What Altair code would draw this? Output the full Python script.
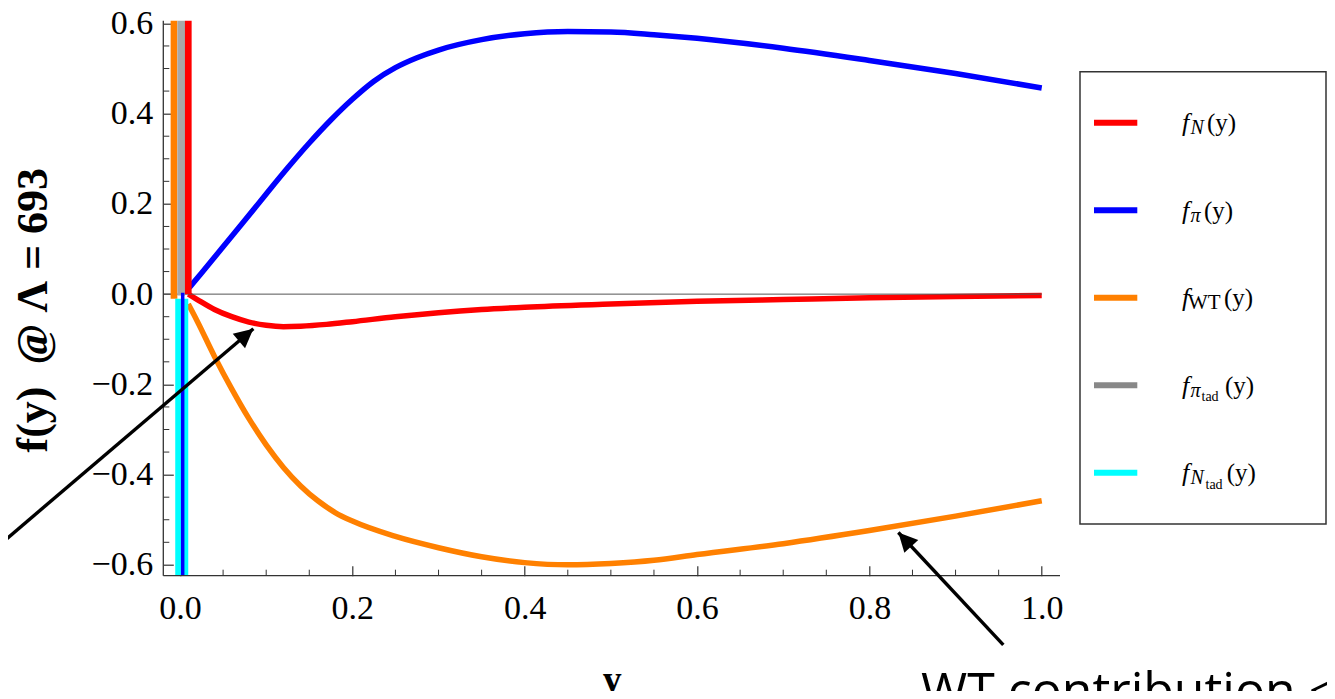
import math
import altair as alt
import pandas as pd

# ---------------- values ----------------
SERIES = ["fN", "fpi", "fWT", "fpitad", "fNtad"]
LINE_COLORS = ["#ff0000", "#0000ff", "#ff8000", "#a8a8a8", "#00ffff"]
SWATCH_COLORS = ["#ff0000", "#0000ff", "#ff8000", "#888888", "#00ffff"]

X_N = [0.0096, 0.02, 0.04, 0.06, 0.08, 0.10, 0.12, 0.14, 0.17, 0.20, 0.25,
       0.30, 0.35, 0.40, 0.50, 0.60, 0.70, 0.80, 0.90, 1.00]
F_N = [0.0, -0.012, -0.034, -0.050, -0.062, -0.069, -0.072, -0.071, -0.067,
       -0.061, -0.050, -0.041, -0.034, -0.029, -0.022, -0.016, -0.012,
       -0.008, -0.005, -0.003]

X_PI = [0.011, 0.025, 0.05, 0.075, 0.10, 0.125, 0.15, 0.175, 0.20, 0.225,
        0.25, 0.275, 0.30, 0.35, 0.40, 0.45, 0.50, 0.55, 0.60, 0.70, 0.80,
        0.90, 1.00]
F_PI = [0.015, 0.047, 0.105, 0.163, 0.222, 0.28, 0.335, 0.386, 0.432, 0.472,
        0.502, 0.524, 0.541, 0.564, 0.577, 0.582, 0.581, 0.575, 0.567, 0.545,
        0.518, 0.489, 0.457]

X_WT = [0.0096, 0.02, 0.04, 0.06, 0.08, 0.10, 0.12, 0.14, 0.16, 0.18, 0.20,
        0.25, 0.30, 0.35, 0.40, 0.45, 0.50, 0.55, 0.60, 0.70, 0.80, 0.90, 1.00]
F_WT = [-0.022, -0.06, -0.138, -0.21, -0.276, -0.334, -0.384, -0.425,
        -0.458, -0.484, -0.503, -0.537, -0.562, -0.582, -0.595, -0.600,
        -0.597, -0.590, -0.577, -0.553, -0.524, -0.492, -0.458]

# vertical spikes near y = 0 (they run off the plotted range)
SPIKE_SERIES = ["fWT", "fpitad", "fN", "fNtad", "fpi"]
SPIKE_X = [-0.007, 0.0014, 0.0096, 0.002, 0.0031]
SPIKE_FROM = [-0.01, -0.003, 0.0, -0.01, 0.003]
SPIKE_TO = [0.9, 0.9, 0.9, -0.9, -0.9]

X_MAJOR = [0.0, 0.2, 0.4, 0.6, 0.8, 1.0]
Y_MAJOR = [-0.6, -0.4, -0.2, 0.0, 0.2, 0.4, 0.6]
X_MINOR = [0.05, 0.10, 0.15, 0.25, 0.30, 0.35, 0.45, 0.50, 0.55, 0.65, 0.70,
           0.75, 0.85, 0.90, 0.95]
Y_MINOR = [-0.55, -0.50, -0.45, -0.35, -0.30, -0.25, -0.15, -0.10, -0.05,
           0.05, 0.10, 0.15, 0.25, 0.30, 0.35, 0.45, 0.50, 0.55]

LEG_SUB = ["N", "π", "WT", "π", "N"]
LEG_SUBSUB = ["", "", "", "tad", "tad"]

# annotation arrows (data coordinates): tail -> tip
ARROW_TAIL_X = [-0.232, 0.9554]
ARROW_TAIL_Y = [-0.5923, -0.7775]
ARROW_TIP_X = [0.0851, 0.8336]
ARROW_TIP_Y = [-0.0768, -0.5282]

NB = "\u00a0"
X_TITLE = "y"
Y_TITLE = "f(y)" + NB * 2 + "@" + NB + "Λ" + NB + "=" + NB + "693"
NOTE_TEXT = "WT contribution <"

# ---------------- layout ----------------
OX, OY = 163.3, 20.7          # page position of the plot origin
W, H = 896.7, 555.0
SVG_W, SVG_H = 1319, 683
XDOM = [-0.0194, 1.0212]
YDOM = [-0.624, 0.606]
SERIF = "Liberation Serif"
AXC = "#333333"

xs = alt.Scale(domain=XDOM, nice=False, zero=False)
ys = alt.Scale(domain=YDOM, nice=False, zero=False)
cs = alt.Scale(domain=SERIES, range=LINE_COLORS)

xaxis = alt.Axis(values=X_MAJOR, format=".1f", title=X_TITLE,
                 titleFont=SERIF, titleFontSize=38, titleFontWeight="bold",
                 titleColor="black", titleAlign="center",
                 titleBaseline="alphabetic", titleX=W / 2, titleY=126,
                 labelFont=SERIF, labelFontSize=34, labelColor="black",
                 labelPadding=16, labelFlush=False, labelOverlap=False,
                 tickSize=10, tickColor=AXC, tickWidth=1.2, offset=-10,
                 domain=False, grid=False)
yaxis = alt.Axis(values=Y_MAJOR, format=".1f", title=Y_TITLE,
                 titleFont=SERIF, titleFontSize=44, titleFontWeight="bold",
                 titleColor="black", titleAngle=270, titleAlign="center",
                 titleBaseline="alphabetic", titleX=-127, titleY=289,
                 labelFont=SERIF, labelFontSize=34, labelColor="black",
                 labelPadding=10.6, labelFlush=False, labelOverlap=False,
                 tickSize=10, tickColor=AXC, tickWidth=1.2, offset=-10,
                 domain=False, grid=False)


def X(field):
    return alt.X(field, scale=xs, axis=xaxis)


def Y(field):
    return alt.Y(field, scale=ys, axis=yaxis)


one = pd.DataFrame({"k": [0]})


def curve(name, xv, fv):
    df = pd.DataFrame({"x": xv, "v": fv, "name": name})
    return alt.Chart(df).mark_line(
        clip=True, strokeWidth=5.5, interpolate="monotone").encode(
        x=X("x:Q"), y=Y("v:Q"),
        color=alt.Color("name:N", scale=cs, legend=None),
    )


spikes = pd.DataFrame({"name": SPIKE_SERIES, "x": SPIKE_X,
                       "y": SPIKE_FROM, "y2": SPIKE_TO})
SPIKE_WIDTH = {"fWT": 6.7, "fpitad": 7.7, "fN": 6.7, "fNtad": 13, "fpi": 3.5}


def spike(name):
    return alt.Chart(spikes).transform_filter(
        alt.datum.name == name
    ).mark_rule(clip=True, strokeWidth=SPIKE_WIDTH[name]).encode(
        x=X("x:Q"), y=Y("y:Q"), y2="y2:Q",
        color=alt.Color("name:N", scale=cs, legend=None),
    )


zero_line = alt.Chart(pd.DataFrame({"x": [XDOM[0]], "x2": [1.0], "y": [0.0]})
                      ).mark_rule(color="#555555", strokeWidth=1).encode(
    x=X("x:Q"), x2="x2:Q", y=Y("y:Q"))

frame_left = alt.Chart(one).mark_rule(color=AXC, strokeWidth=1.3).encode(
    x=alt.value(0), y=alt.value(0), y2=alt.value(H))
frame_bottom = alt.Chart(one).mark_rule(color=AXC, strokeWidth=1.3).encode(
    x=alt.value(0), x2=alt.value(W), y=alt.value(H))

xminor = alt.Chart(pd.DataFrame({"t": X_MINOR})).mark_rule(
    color=AXC, strokeWidth=1).encode(
    x=X("t:Q"), y=alt.value(H), y2=alt.value(H - 6))
yminor = alt.Chart(pd.DataFrame({"t": Y_MINOR})).mark_rule(
    color=AXC, strokeWidth=1).encode(
    y=Y("t:Q"), x=alt.value(0), x2=alt.value(6))

# arrows
arrows = pd.DataFrame({"x": ARROW_TAIL_X, "y": ARROW_TAIL_Y,
                       "x2": ARROW_TIP_X, "y2": ARROW_TIP_Y})
arrow_lines = alt.Chart(arrows).mark_rule(color="black", strokeWidth=3.4).encode(
    x=X("x:Q"), y=Y("y:Q"), x2="x2:Q", y2="y2:Q")
kx = W / (XDOM[1] - XDOM[0])
ky = H / (YDOM[1] - YDOM[0])
heads = []
for tx, ty, hx, hy in zip(ARROW_TAIL_X, ARROW_TAIL_Y, ARROW_TIP_X, ARROW_TIP_Y):
    dxp = (hx - tx) * kx
    dyp = -(hy - ty) * ky
    ang = math.degrees(math.atan2(dxp, -dyp)) % 360
    heads.append(
        alt.Chart(pd.DataFrame({"x": [hx], "y": [hy]})).mark_point(
            shape="M0,0L-0.5,1L0.5,1Z", filled=True, color="black",
            opacity=1, size=1444, angle=ang, strokeWidth=0).encode(
            x=X("x:Q"), y=Y("y:Q")))

note = alt.Chart(one).mark_text(
    text=NOTE_TEXT, font="Open Sans", fontSize=50, align="left",
    baseline="alphabetic", color="black").encode(
    x=alt.value(921 - OX), y=alt.value(708 - OY))
note_left = alt.Chart(one).mark_text(
    text="n", font="Open Sans", fontSize=50, align="right",
    baseline="alphabetic", color="black").encode(
    x=alt.value(12 - OX), y=alt.value(650 - OY))

# ---------------- legend (drawn at the right of the plot) ----------------
ROW0, ROWSTEP = 102.0, 87.5
SUB_X = [1190.5, 1190.5, 1188, 1190.5, 1190.5]
SUBSUB_X = [0, 0, 0, 1201.5, 1205.5]
REST_X = [1207, 1204, 1224, 1225, 1226.7]
leg = pd.DataFrame({
    "name": SERIES,
    "swatch": SWATCH_COLORS,
    "row": [ROW0 + ROWSTEP * i for i in range(len(SERIES))],
    "sub": LEG_SUB,
    "subsub": LEG_SUBSUB,
    "sub_x": [v - OX for v in SUB_X],
    "subsub_x": [v - OX for v in SUBSUB_X],
    "rest_x": [v - OX for v in REST_X],
})
leg["base"] = leg["row"] + 8.6
leg["sub_base"] = leg["row"] + 11.5
leg["subsub_base"] = leg["row"] + 16

legend_box = alt.Chart(one).mark_rect(
    fill="white", stroke="#333333", strokeWidth=1.5).encode(
    x=alt.value(1080 - OX), x2=alt.value(1326 - OX),
    y=alt.value(71.7 - OY), y2=alt.value(524 - OY))
swatches = alt.Chart(leg).mark_rule(strokeWidth=6).encode(
    x=alt.value(1094 - OX), x2=alt.value(1137.3 - OX),
    y=alt.Y("row:Q", scale=None),
    color=alt.Color("swatch:N", scale=None))
leg_f = alt.Chart(leg).mark_text(
    text="f", font=SERIF, fontSize=26, fontStyle="italic", align="left",
    baseline="alphabetic", color="black").encode(
    x=alt.value(1182 - OX), y=alt.Y("base:Q", scale=None))
leg_sub_it = alt.Chart(leg).transform_filter(
    alt.datum.sub != "WT").mark_text(
    font=SERIF, fontSize=20, fontStyle="italic", align="left",
    baseline="alphabetic", color="black").encode(
    x=alt.X("sub_x:Q", scale=None), y=alt.Y("sub_base:Q", scale=None),
    text="sub:N")
leg_sub_up = alt.Chart(leg).transform_filter(
    alt.datum.sub == "WT").mark_text(
    font=SERIF, fontSize=21, align="left",
    baseline="alphabetic", color="black").encode(
    x=alt.X("sub_x:Q", scale=None), y=alt.Y("sub_base:Q", scale=None),
    text="sub:N")
leg_subsub = alt.Chart(leg).transform_filter(
    alt.datum.subsub != "").mark_text(
    font=SERIF, fontSize=14, align="left",
    baseline="alphabetic", color="black").encode(
    x=alt.X("subsub_x:Q", scale=None), y=alt.Y("subsub_base:Q", scale=None),
    text="subsub:N")
leg_rest = alt.Chart(leg).mark_text(
    text="(y)", font=SERIF, fontSize=25, align="left",
    baseline="alphabetic", color="black").encode(
    x=alt.X("rest_x:Q", scale=None), y=alt.Y("base:Q", scale=None))

chart = alt.layer(
    curve("fN", X_N, F_N),
    zero_line,
    curve("fpi", X_PI, F_PI),
    curve("fWT", X_WT, F_WT),
    spike("fWT"),
    spike("fpitad"),
    spike("fN"),
    spike("fNtad"),
    spike("fpi"),
    frame_left, frame_bottom, xminor, yminor,
    arrow_lines, *heads,
    note, note_left,
    legend_box, swatches, leg_f, leg_sub_it, leg_sub_up, leg_subsub, leg_rest,
).properties(
    width=W, height=H,
    autosize=alt.AutoSizeParams(type="none"),
    padding={"left": OX - 8, "top": OY - 8, "right": SVG_W - (OX - 8) - W,
             "bottom": SVG_H - (OY - 8) - H},
    background="white",
).configure_view(stroke=None)

chart.save("out.html", embed_options={"renderer": "svg", "actions": False})
